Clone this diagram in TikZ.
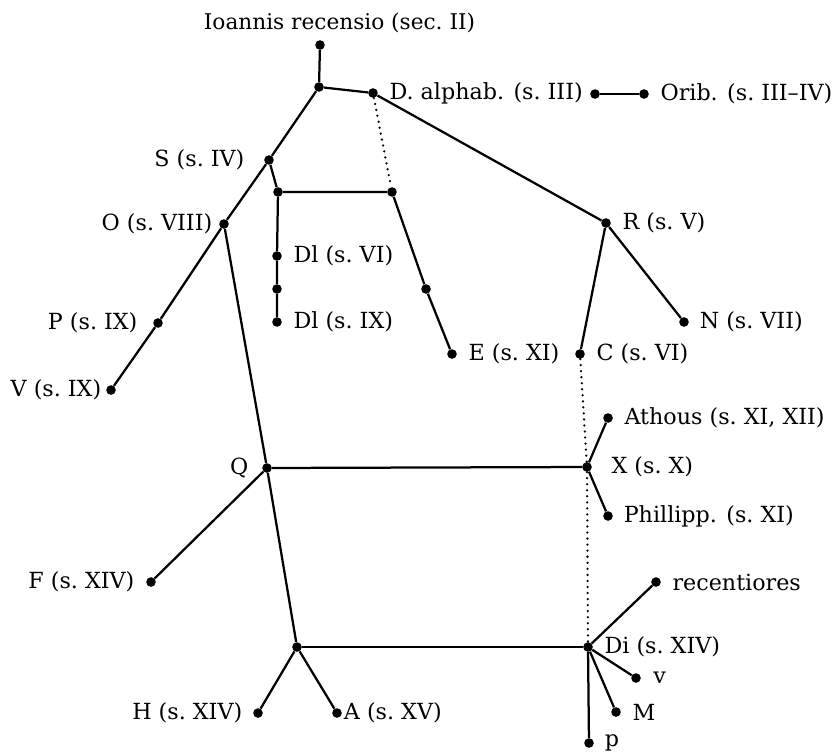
\documentclass[tikz,border=0pt]{standalone}
\usepackage{fontspec}
\setmainfont{DejaVu Serif}
\begin{document}
\begin{tikzpicture}[x=0.025cm, y=-0.025cm,
    ms/.style={circle, fill, inner sep=0pt, minimum size=0.24cm},
    every label/.style={inner sep=0pt, font=\fontsize{15.8}{18}\selectfont},
    stem/.style={line width=1.6pt},
    lost/.style={line width=1.8pt, line cap=round, dash pattern=on 0pt off 4.3pt}]
  \useasboundingbox (0,0) rectangle (835,752);

  % Archetype
  \node[inner sep=0pt, font=\fontsize{15.4}{18}\selectfont] (title) at (339.5,23) {Ioannis recensio (sec.\ II)};
  \node[ms] (ioan) at (320,45) {};
  \node[ms] (root) at (319,87) {};

  % Upper branches
  \node[ms, label={[label distance=0.28cm]right:D. alphab. (s.\ III)}] (dalph) at (373,93) {};
  \node[ms] (oriA) at (595,94) {};
  \node[ms, label={[label distance=0.28cm]right:Orib. (s.\ III--IV)}] (oriB) at (644,94) {};
  \node[ms, label={[label distance=0.48cm]left:S (s.\ IV)}] (S) at (269,160) {};
  \node[ms] (jl) at (278,192) {};
  \node[ms] (jr) at (392,192) {};
  \node[ms, label={[label distance=0.16cm]left:O (s.\ VIII)}] (O) at (224,224) {};
  \node[ms, label={[label distance=0.28cm]right:Dl (s.\ VI)}] (DlA) at (277,256) {};
  \node[ms] (Dlm) at (277,289) {};
  \node[ms, label={[label distance=0.28cm]right:Dl (s.\ IX)}] (DlB) at (277,322) {};
  \node[ms, label={[label distance=0.38cm]left:P (s.\ IX)}] (P) at (158,323) {};
  \node[ms, label={[label distance=0.11cm]left:V (s.\ IX)}] (V) at (111,390) {};
  \node[ms] (Em) at (426,289) {};
  \node[ms, label={[label distance=0.28cm]right:E (s.\ XI)}] (E) at (452,354) {};
  \node[ms, label={[label distance=0.28cm]right:R (s.\ V)}] (R) at (606,223) {};
  \node[ms, label={[label distance=0.26cm]right:N (s.\ VII)}] (N) at (684,322) {};
  \node[ms, label={[label distance=0.28cm]right:C (s.\ VI)}] (C) at (580,354) {};

  % Middle
  \node[ms, label={[label distance=0.28cm]right:Athous (s.\ XI, XII)}] (Ath) at (608,418) {};
  \node[ms, label={[label distance=0.48cm]right:X (s.\ X)}] (X) at (587,467) {};
  \node[ms, label={[label distance=0.26cm]right:Phillipp. (s.\ XI)}] (Phi) at (608,516) {};
  \node[ms, label={[label distance=0.33cm]left:Q}] (Q) at (267,468) {};
  \node[ms, label={[label distance=0.28cm]left:F (s.\ XIV)}] (F) at (151,582) {};

  % Lower
  \node[ms] (bj) at (297,647) {};
  \node[ms, label={[label distance=0.26cm]left:H (s.\ XIV)}] (H) at (258,713) {};
  \node[ms, label={[label distance=0.04cm]right:A (s.\ XV)}] (A) at (337,713) {};
  \node[ms, label={[label distance=0.28cm]right:Di (s.\ XIV)}] (Di) at (588,647) {};
  \node[ms, label={[label distance=0.28cm]right:recentiores}] (rec) at (656,582) {};
  \node[ms, label={[label distance=0.3cm]right:v}] (v) at (636,678) {};
  \node[ms, label={[label distance=0.28cm]right:M}] (M) at (616,712) {};
  \node[ms, label={[label distance=0.26cm]right:p}] (p) at (589,743) {};

  % Descent
  \draw[stem] (ioan) -- (root);
  \draw[stem] (root) -- (dalph) -- (R);
  \draw[stem] (root) -- (S) -- (O) -- (P) -- (V);
  \draw[stem] (S) -- (jl) -- (jr) -- (Em) -- (E);
  \draw[stem] (jl) -- (DlA) -- (Dlm) -- (DlB);
  \draw[stem] (oriA) -- (oriB);
  \draw[stem] (R) -- (N);
  \draw[stem] (R) -- (C);
  \draw[stem] (O) -- (Q) -- (bj);
  \draw[stem] (Q) -- (X);
  \draw[stem] (Q) -- (F);
  \draw[stem] (X) -- (Ath);
  \draw[stem] (X) -- (Phi);
  \draw[stem] (bj) -- (Di);
  \draw[stem] (bj) -- (H);
  \draw[stem] (bj) -- (A);
  \foreach \k in {rec, v, M, p}
    \draw[stem] (Di) -- (\k);

  % Contamination
  \draw[lost] (dalph) -- (jr);
  \draw[lost] (C) -- (X) -- (Di);
\end{tikzpicture}
\end{document}
